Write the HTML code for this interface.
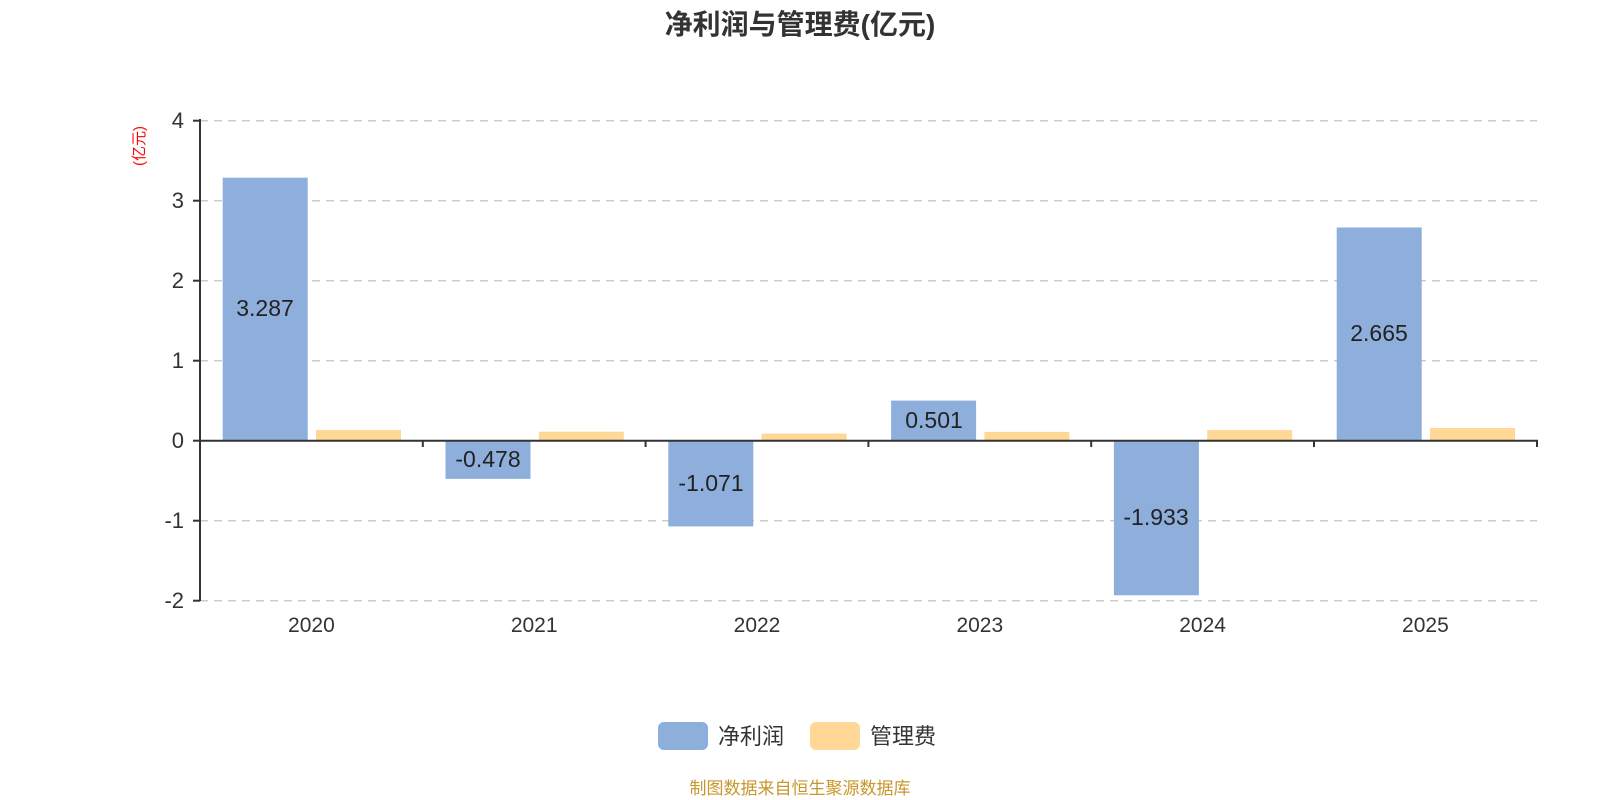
<!DOCTYPE html>
<html><head><meta charset="utf-8"><style>body{margin:0;background:#fff}svg{display:block}</style></head><body>
<svg width="1600" height="800" xmlns="http://www.w3.org/2000/svg" font-family="'Liberation Sans','Noto Sans CJK SC',sans-serif">
<text x="800" y="34" text-anchor="middle" font-size="28" font-weight="bold" fill="#333">净利润与管理费(亿元)</text>
<text transform="translate(144,146) rotate(-90)" text-anchor="middle" font-size="15" fill="#f00">(亿元)</text>
<g stroke="#ccc" stroke-width="1.5" stroke-dasharray="8,6">
<line x1="200" x2="1537" y1="120.7" y2="120.7"/>
<line x1="200" x2="1537" y1="200.7" y2="200.7"/>
<line x1="200" x2="1537" y1="280.7" y2="280.7"/>
<line x1="200" x2="1537" y1="360.7" y2="360.7"/>
<line x1="200" x2="1537" y1="520.7" y2="520.7"/>
<line x1="200" x2="1537" y1="600.7" y2="600.7"/>
</g>
<g font-size="22" fill="#333" text-anchor="end">
<text x="184" y="128">4</text><text x="184" y="208">3</text><text x="184" y="288">2</text><text x="184" y="368">1</text><text x="184" y="448">0</text><text x="184" y="528">-1</text><text x="184" y="608">-2</text>
</g>
<g fill="#8eaedb">
<rect x="222.7" y="177.7" width="85" height="263"/>
<rect x="445.5" y="440.7" width="85" height="38.2"/>
<rect x="668.3" y="440.7" width="85" height="85.7"/>
<rect x="891.1" y="400.6" width="85" height="40.1"/>
<rect x="1113.9" y="440.7" width="85" height="154.6"/>
<rect x="1336.7" y="227.5" width="85" height="213.2"/>
</g>
<g fill="#ffd898">
<rect x="316" y="430" width="85" height="10.7"/>
<rect x="538.8" y="431.7" width="85" height="9"/>
<rect x="761.6" y="433.5" width="85" height="7.2"/>
<rect x="984.4" y="431.9" width="85" height="8.8"/>
<rect x="1207.2" y="430" width="85" height="10.7"/>
<rect x="1430" y="428" width="85" height="12.7"/>
</g>
<g stroke="#333" stroke-width="2">
<line x1="200" y1="119" x2="200" y2="601"/>
<line x1="193" y1="120.7" x2="200" y2="120.7"/><line x1="193" y1="200.7" x2="200" y2="200.7"/><line x1="193" y1="280.7" x2="200" y2="280.7"/><line x1="193" y1="360.7" x2="200" y2="360.7"/><line x1="193" y1="440.7" x2="200" y2="440.7"/><line x1="193" y1="520.7" x2="200" y2="520.7"/><line x1="193" y1="600.7" x2="200" y2="600.7"/>
<line x1="200" y1="440.7" x2="1538" y2="440.7"/>
<line x1="422.8" y1="440" x2="422.8" y2="447"/><line x1="645.6" y1="440" x2="645.6" y2="447"/><line x1="868.4" y1="440" x2="868.4" y2="447"/><line x1="1091.2" y1="440" x2="1091.2" y2="447"/><line x1="1314" y1="440" x2="1314" y2="447"/><line x1="1537" y1="440" x2="1537" y2="447"/>
</g>
<g font-size="23" fill="#222" text-anchor="middle">
<text x="265" y="316">3.287</text>
<text x="488" y="467">-0.478</text>
<text x="711" y="491">-1.071</text>
<text x="934" y="428">0.501</text>
<text x="1156" y="525">-1.933</text>
<text x="1379" y="341">2.665</text>
</g>
<g font-size="21" fill="#333" text-anchor="middle">
<text x="311.4" y="632">2020</text><text x="534.2" y="632">2021</text><text x="757" y="632">2022</text><text x="979.8" y="632">2023</text><text x="1202.6" y="632">2024</text><text x="1425.4" y="632">2025</text>
</g>
<rect x="658" y="722" width="50" height="28" rx="6" fill="#8eaedb"/>
<text x="718" y="744" font-size="22" fill="#333">净利润</text>
<rect x="810" y="722" width="50" height="28" rx="6" fill="#ffd898"/>
<text x="870" y="744" font-size="22" fill="#333">管理费</text>
<text x="800" y="794" text-anchor="middle" font-size="17" fill="#c8962a">制图数据来自恒生聚源数据库</text>
</svg>
</body></html>
